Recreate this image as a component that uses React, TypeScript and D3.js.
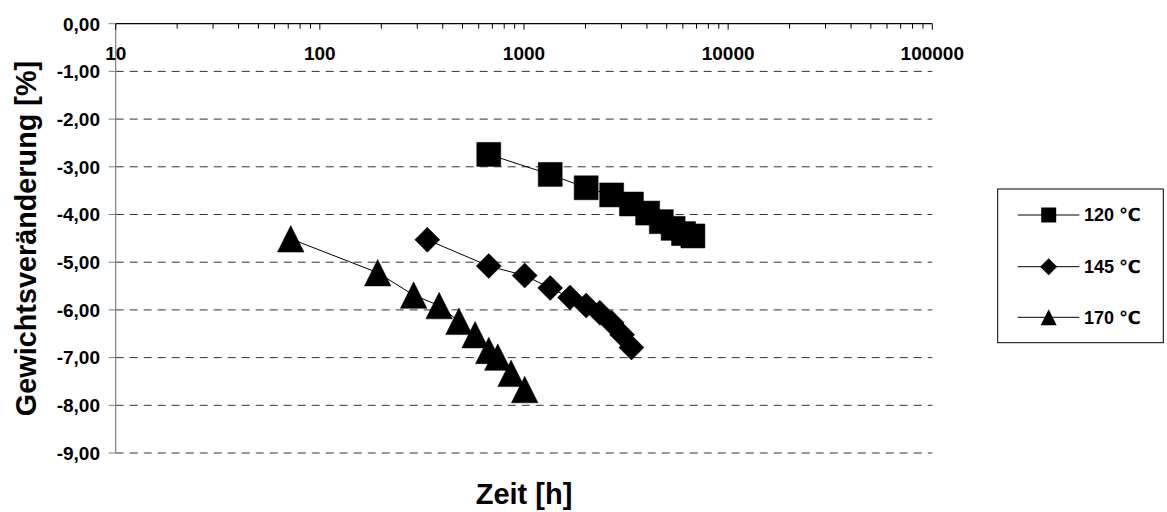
import React from "react";
import * as d3 from "d3";

const W = 1167;
const H = 512;

const yTicks = [0, -1, -2, -3, -4, -5, -6, -7, -8, -9];
const xTicks = [10, 100, 1000, 10000, 100000];

const labels = ["120 ℃", "145 ℃", "170 ℃"];

const time120 = [672, 1344, 2016, 2688, 3360, 4032, 4704, 5376, 6048, 6720];
const val120 = [-2.74, -3.16, -3.44, -3.59, -3.78, -3.97, -4.15, -4.29, -4.4, -4.45];

const time145 = [336, 672, 1008, 1344, 1680, 2016, 2352, 2688, 3024, 3360];
const val145 = [-4.53, -5.08, -5.28, -5.54, -5.74, -5.91, -6.06, -6.27, -6.52, -6.79];

const time170 = [72, 192, 288, 384, 480, 576, 672, 744, 864, 1008];
const val170 = [-4.51, -5.22, -5.69, -5.91, -6.24, -6.52, -6.85, -6.99, -7.33, -7.67];

type Shape = "square" | "diamond" | "triangle";
const shapes: Shape[] = ["square", "diamond", "triangle"];

const series = [
  { name: labels[0], t: time120, v: val120, shape: shapes[0] },
  { name: labels[1], t: time145, v: val145, shape: shapes[1] },
  { name: labels[2], t: time170, v: val170, shape: shapes[2] },
];

const FONT = "'Liberation Sans', Arial, 'DejaVu Sans', sans-serif";

function markerPath(shape: Shape, cx: number, cy: number, s: number): string {
  const h = s / 2;
  if (shape === "square") {
    return `M${cx - h},${cy - h}H${cx + h}V${cy + h}H${cx - h}Z`;
  }
  if (shape === "diamond") {
    return `M${cx},${cy - h}L${cx + h},${cy}L${cx},${cy + h}L${cx - h},${cy}Z`;
  }
  return `M${cx},${cy - h}L${cx + h},${cy + h}L${cx - h},${cy + h}Z`;
}

const markerSize: Record<Shape, number> = { square: 24, diamond: 25, triangle: 26.5 };
const legendMarkerSize: Record<Shape, number> = { square: 15, diamond: 17, triangle: 16 };

const locale = d3.formatLocale({
  decimal: ",",
  thousands: ".",
  grouping: [3],
  currency: ["", "€"],
  minus: "-",
});
const fmtY = locale.format(".2f");

export default function App() {
  const left = 115.7;
  const right = 932.3;
  const top = 23.7;
  const bottom = 453;

  const x = d3.scaleLog().domain([10, 100000]).range([left, right]);
  const y = d3.scaleLinear().domain([-9, 0]).range([bottom, top]);

  const minorTicks: number[] = [];
  for (let d = 10; d < 100000; d *= 10) {
    for (let k = 2; k <= 9; k++) minorTicks.push(d * k);
  }

  const line = d3
    .line<[number, number]>()
    .x((d) => x(d[0]))
    .y((d) => y(d[1]));

  const legendRows = [215, 266.7, 317.3];

  return (
    <svg
      width={W}
      height={H}
      style={{ position: "absolute", left: 0, top: 0, background: "#fff" }}
      fontFamily={FONT}
    >
      <rect x={0} y={0} width={W} height={H} fill="#fff" />
      {yTicks
        .filter((t) => t !== 0)
        .map((t) => (
          <line
            key={"g" + t}
            x1={left}
            x2={right}
            y1={y(t)}
            y2={y(t)}
            stroke="#333"
            strokeWidth={1}
            strokeDasharray="8,6"
          />
        ))}
      <line x1={left} x2={left} y1={top} y2={bottom} stroke="#808080" strokeWidth={1.2} />
      {yTicks.map((t) => (
        <g key={"y" + t}>
          <line x1={left - 7} x2={left} y1={y(t)} y2={y(t)} stroke="#808080" strokeWidth={1} />
          <text
            x={100}
            y={y(t)}
            dy="0.36em"
            textAnchor="end"
            fontSize={19}
            fontWeight="bold"
            fill="#000"
          >
            {fmtY(t)}
          </text>
        </g>
      ))}
      <line x1={left} x2={right} y1={y(0)} y2={y(0)} stroke="#000" strokeWidth={1.2} />
      {minorTicks.map((t) => (
        <line key={"m" + t} x1={x(t)} x2={x(t)} y1={y(0)} y2={y(0) + 5} stroke="#000" strokeWidth={1} />
      ))}
      {xTicks.map((t) => (
        <g key={"x" + t}>
          <line x1={x(t)} x2={x(t)} y1={y(0)} y2={y(0) + 6} stroke="#000" strokeWidth={1} />
          <text
            x={x(t)}
            y={60}
            textAnchor="middle"
            fontSize={19}
            fontWeight="bold"
            fill="#000"
          >
            {String(t)}
          </text>
        </g>
      ))}
      {series.map((s) => {
        const pts: [number, number][] = s.t.map((tv, i) => [tv, s.v[i]]);
        return (
          <g key={s.name}>
            <path d={line(pts) || ""} fill="none" stroke="#000" strokeWidth={1} />
            {pts.map((p, i) => (
              <path
                key={i}
                d={markerPath(s.shape, x(p[0]), y(p[1]), markerSize[s.shape])}
                fill="#000"
                stroke="#000"
                strokeWidth={0.5}
              />
            ))}
          </g>
        );
      })}
      <text
        transform={`translate(36,238.5) rotate(-90)`}
        textAnchor="middle"
        fontSize={28.8}
        fontWeight="bold"
        fill="#000"
      >
        Gewichtsveränderung [%]
      </text>
      <text x={524} y={504} textAnchor="middle" fontSize={29} fontWeight="bold" fill="#000">
        Zeit [h]
      </text>
      <rect x={997.7} y={189} width={165.6} height={153.7} fill="#fff" stroke="#000" strokeWidth={1} />
      {series.map((s, i) => (
        <g key={"l" + s.name}>
          <line x1={1017.7} x2={1079.3} y1={legendRows[i]} y2={legendRows[i]} stroke="#000" strokeWidth={1} />
          <path
            d={markerPath(s.shape, 1048.7, legendRows[i], legendMarkerSize[s.shape])}
            fill="#000"
          />
          <text
            x={1084}
            y={legendRows[i]}
            dy="0.36em"
            fontSize={18}
            fontWeight="bold"
            fill="#000"
          >
            {s.name}
          </text>
        </g>
      ))}
    </svg>
  );
}
